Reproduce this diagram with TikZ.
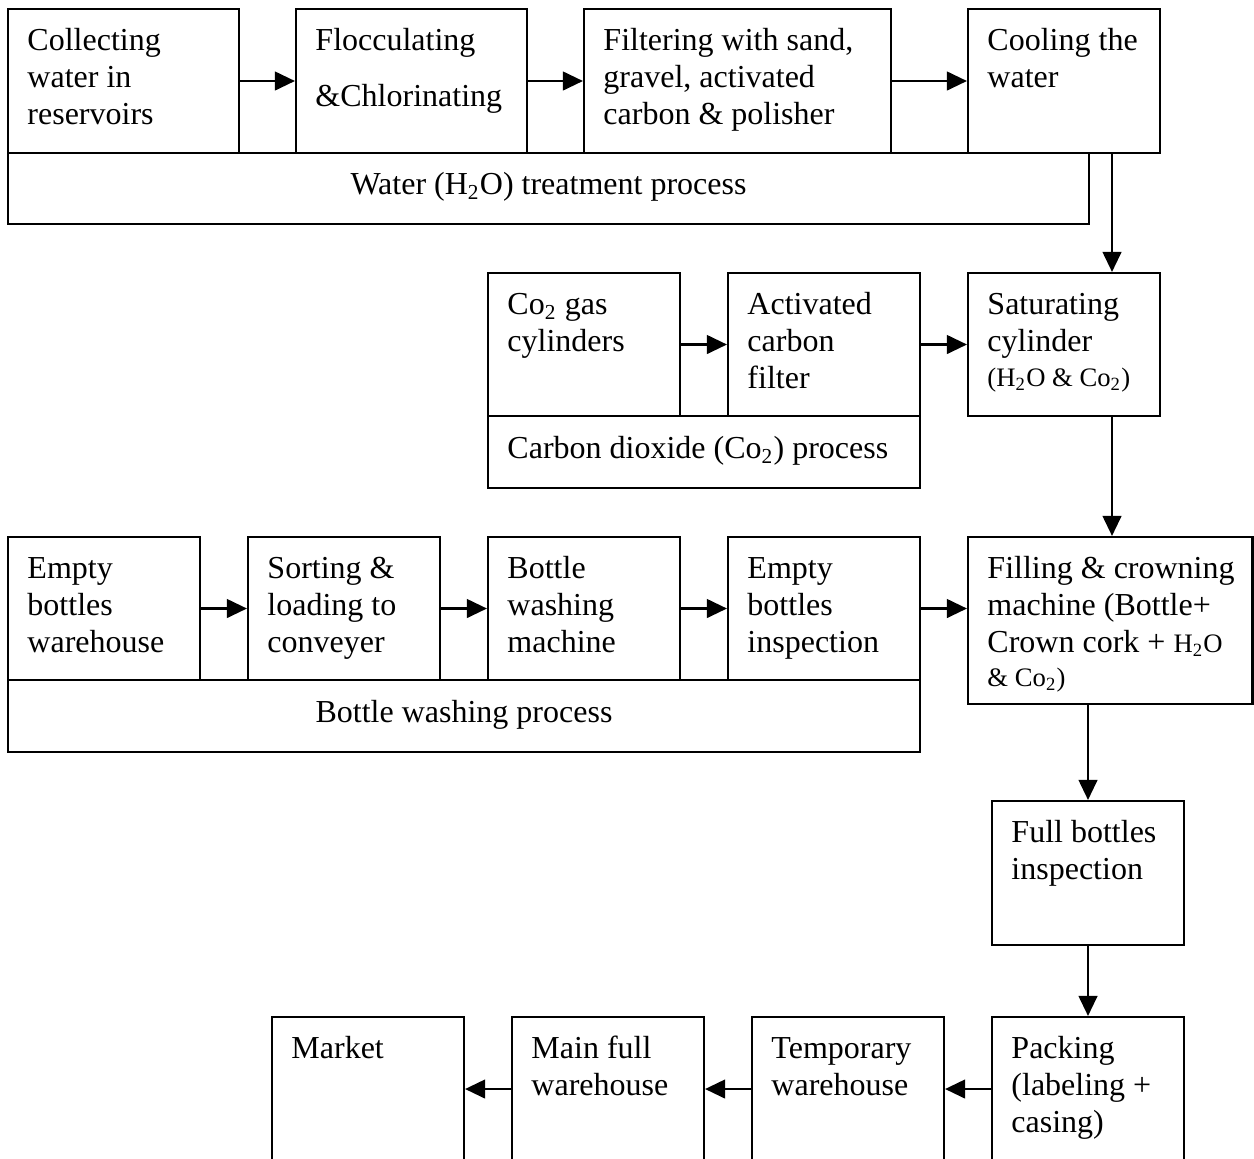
\documentclass[tikz,border=0pt]{standalone}
\usepackage{fontspec}
\setmainfont{Liberation Serif}
\usetikzlibrary{arrows.meta,fit}

% multi-line box text, first baseline at the node's base
\newcommand\lines[1]{\parbox[t]{300pt}{\raggedright #1}}
\newcommand\sm{\fontsize{10pt}{12pt}\selectfont}
\newcommand\sub[1]{\textsubscript{#1}}

\begin{document}
\begin{tikzpicture}[x=0.375pt,y=-0.375pt,
  box/.style={draw, line width=0.8pt, rectangle, inner sep=0pt},
  arr/.style={line width=0.8pt, -{Triangle[length=7.5pt,width=7pt]}},
  txt/.style={anchor=base west, inner sep=0pt, font=\fontsize{12pt}{13.875pt}\selectfont},
  ctxt/.style={anchor=base, inner sep=0pt, font=\fontsize{12pt}{13.875pt}\selectfont},
]
\clip (0,0) rectangle (1254,1158);

% a process box from its two corners
\newcommand\procbox[5]{%
  \coordinate (#1-a) at (#2,#3);
  \coordinate (#1-b) at (#4,#5);
  \node[box, fit=(#1-a)(#1-b)] (#1) {};}
\newcommand\boxtext[2]{%
  \node[txt] (#1-t) at ([shift={(20,43)}]#1.north west) {\lines{#2}};}

% ---------- water treatment ----------
\procbox{water}{8}{153}{1089}{224}
\node[ctxt] (water-t) at ([shift={(0,43)}]water.north) {Water (H\sub{2}O) treatment process};

\procbox{collect}{8}{9}{239}{153}
\boxtext{collect}{Collecting\\water in\\reservoirs}
\procbox{floc}{296}{9}{527}{153}
\boxtext{floc}{Flocculating\\[7.1pt]\&Chlorinating}
\procbox{filt}{584}{9}{891}{153}
\boxtext{filt}{Filtering with sand,\\gravel, activated\\carbon \& polisher}
\procbox{cool}{968}{9}{1160}{153}
\boxtext{cool}{Cooling the\\water}

\draw[arr] (collect.east) -- (floc.west);
\draw[arr] (floc.east) -- (filt.west);
\draw[arr] (filt.east) -- (cool.west);

% ---------- carbon dioxide ----------
\procbox{co2}{488}{416}{920}{488}
\node[txt] (co2-t) at ([shift={(20,44)}]co2.north west) {Carbon dioxide (Co\sub{2}) process};

\procbox{cyl}{488}{273}{680}{416}
\boxtext{cyl}{Co\sub{2} gas\\cylinders}
\procbox{acf}{728}{273}{920}{416}
\boxtext{acf}{Activated\\carbon\\filter}
\procbox{sat}{968}{273}{1160}{416}
\boxtext{sat}{Saturating\\cylinder\\[-0.8pt]{\sm (H\sub{2}O \& Co\sub{2})}}

\draw[arr] (cyl.east) -- (acf.west);
\draw[arr] (acf.east) -- (sat.west);

% ---------- bottle washing ----------
\procbox{wash}{8}{680}{920}{752}
\node[ctxt] (wash-t) at ([shift={(0,44)}]wash.north) {Bottle washing process};

\procbox{empty}{8}{537}{200}{680}
\boxtext{empty}{Empty\\bottles\\warehouse}
\procbox{sort}{248}{537}{440}{680}
\boxtext{sort}{Sorting \&\\loading to\\conveyer}
\procbox{bwm}{488}{537}{680}{680}
\boxtext{bwm}{Bottle\\washing\\machine}
\procbox{ebi}{728}{537}{920}{680}
\boxtext{ebi}{Empty\\bottles\\inspection}
\procbox{fill}{968}{537}{1252.5}{704}
\boxtext{fill}{Filling \& crowning\\machine (Bottle+\\Crown cork + {\sm H\sub{2}O}\\[-1.2pt]{\sm \& Co\sub{2})}}

\draw[arr] (empty.east) -- (sort.west);
\draw[arr] (sort.east) -- (bwm.west);
\draw[arr] (bwm.east) -- (ebi.west);
\draw[arr] (ebi.east) -- (ebi.east -| fill.west);

% ---------- full bottles ----------
\procbox{fbi}{992}{801}{1184}{945}
\boxtext{fbi}{Full bottles\\inspection}

\procbox{pack}{992}{1017}{1184}{1161}
\boxtext{pack}{Packing\\(labeling +\\casing)}
\procbox{temp}{752}{1017}{944}{1161}
\boxtext{temp}{Temporary\\warehouse}
\procbox{main}{512}{1017}{704}{1161}
\boxtext{main}{Main full\\warehouse}
\procbox{market}{272}{1017}{464}{1161}
\boxtext{market}{Market}

\draw[arr] (pack.west) -- (temp.east);
\draw[arr] (temp.west) -- (main.east);
\draw[arr] (main.west) -- (market.east);

% ---------- vertical flow ----------
\coordinate (xa) at (1112,0);
\coordinate (xb) at (1088,0);
\draw[arr] (cool.south -| xa) -- (sat.north -| xa);
\draw[arr] (sat.south -| xa) -- (fill.north -| xa);
\draw[arr] (fill.south -| xb) -- (fbi.north);
\draw[arr] (fbi.south) -- (pack.north);
\end{tikzpicture}
\end{document}
